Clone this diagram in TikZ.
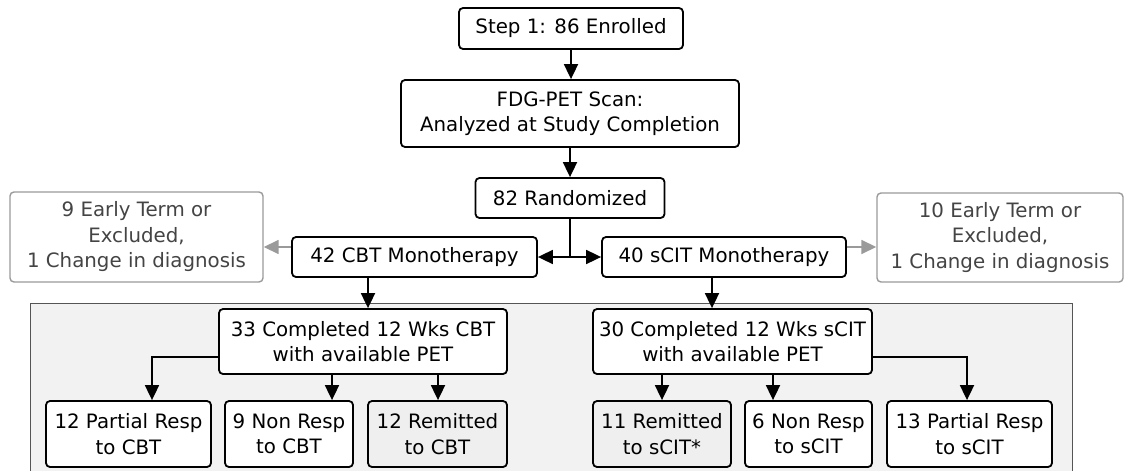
\documentclass[tikz,border=0pt]{standalone}
\usepackage{fontspec}
\setmainfont{DejaVu Sans}
\usetikzlibrary{arrows.meta,calc}
\definecolor{panelfill}{HTML}{F2F2F2}
\definecolor{panelline}{HTML}{555555}
\definecolor{grayline}{HTML}{9A9A9A}
\definecolor{graytext}{HTML}{444444}
\definecolor{remfill}{HTML}{EFEFEF}
\tikzset{
  box/.style={draw=black, line width=1.8pt, rounded corners=4pt, fill=white,
    align=center, inner sep=0pt, font=\fontsize{19.8}{25.5}\selectfont},
  graybox/.style={box, draw=grayline, line width=1.4pt, text=graytext},
  arr/.style={line width=1.8pt, -{Triangle[length=15pt,width=14pt]}},
  garr/.style={arr, draw=grayline, line width=1.6pt, -{Triangle[length=15pt,width=14pt,fill=grayline]}},
}
\begin{document}
\begin{tikzpicture}[x=1pt,y=-1pt]
\useasboundingbox (0,0) rectangle (1124,471);
\clip (0,0) rectangle (1124,471);
% panel
\draw[panelline, line width=1pt, fill=panelfill] (30,303) rectangle (1072,480);
% nodes
\node[box, minimum width=224, minimum height=41] (step1) at (571,28.5) {Step 1: 86 Enrolled};
\node[box, minimum width=338, minimum height=67] (fdg) at (570,113.5) {FDG-PET Scan:\\Analyzed at Study Completion};
\node[box, minimum width=189, minimum height=40] (rand) at (570,198) {82 Randomized};
\node[box, minimum width=245, minimum height=40] (cbt) at (414.5,257) {42 CBT Monotherapy};
\node[box, minimum width=244, minimum height=40] (scit) at (724,257) {40 sCIT Monotherapy};
\node[graybox, minimum width=253, minimum height=90] (gl) at (136.5,237) {9 Early Term or\\Excluded,\\1 Change in diagnosis};
\node[graybox, minimum width=246, minimum height=89] (gr) at (1000,237.5) {10 Early Term or\\Excluded,\\1 Change in diagnosis};
\node[box, minimum width=288, minimum height=65] (c33) at (363,341.5) {33 Completed 12 Wks CBT\\with available PET};
\node[box, minimum width=279, minimum height=65] (c30) at (732.5,341.5) {30 Completed 12 Wks sCIT\\with available PET};
\node[box, minimum width=165, minimum height=66] (p12) at (128.5,434) {12 Partial Resp\\to CBT};
\node[box, minimum width=128, minimum height=66] (n9) at (289,434) {9 Non Resp\\to CBT};
\node[box, fill=remfill, minimum width=139, minimum height=66] (r12) at (437.5,434) {12 Remitted\\to CBT};
\node[box, fill=remfill, minimum width=138, minimum height=66] (r11) at (662,434) {11 Remitted\\to sCIT*};
\node[box, minimum width=127, minimum height=66] (n6) at (808.5,434) {6 Non Resp\\to sCIT};
\node[box, minimum width=165, minimum height=66] (p13) at (969.5,434) {13 Partial Resp\\to sCIT};
% helper coordinates
\coordinate (J) at (rand.south |- cbt.east);
\coordinate (xcbt) at (368,0);
\coordinate (xscit) at (712,0);
\coordinate (xp12) at (152,0);
\coordinate (xn9) at (332,0);
\coordinate (xr12) at (438,0);
\coordinate (xr11) at (662,0);
\coordinate (xn6) at (773,0);
\coordinate (xp13) at (967,0);
\coordinate (ysplit) at (0,357);
% connectors
\draw[arr] (step1.south) -- (step1.south |- fdg.north);
\draw[arr] (fdg.south) -- (fdg.south |- rand.north);
\draw[line width=1.8pt] (rand.south) -- (J);
\draw[arr] (J) -- (cbt.east);
\draw[arr] (J) -- (scit.west);
\draw[garr] ([yshift=10pt]cbt.west) -- ([yshift=10pt]cbt.west -| gl.east);
\draw[garr] ([yshift=10pt]scit.east) -- ([yshift=10pt]scit.east -| gr.west);
\draw[arr] (cbt.south -| xcbt) -- (c33.north -| xcbt);
\draw[arr] (scit.south -| xscit) -- (c30.north -| xscit);
\draw[arr] (c33.west |- ysplit) -| (p12.north -| xp12);
\draw[arr] (c33.south -| xn9) -- (n9.north -| xn9);
\draw[arr] (c33.south -| xr12) -- (r12.north -| xr12);
\draw[arr] (c30.south -| xr11) -- (r11.north -| xr11);
\draw[arr] (c30.south -| xn6) -- (n6.north -| xn6);
\draw[arr] (c30.east |- ysplit) -| (p13.north -| xp13);
\end{tikzpicture}
\end{document}
